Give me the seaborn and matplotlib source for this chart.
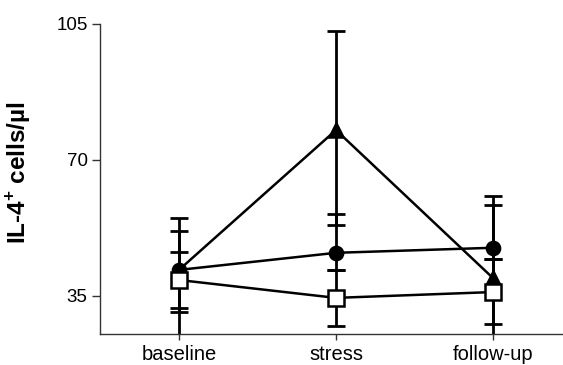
import matplotlib
matplotlib.use("Agg")
import matplotlib.pyplot as plt
import numpy as np
import seaborn as sns

# ---- data ----
timepoints = ["baseline", "stress", "follow-up"]

tri_mean = [41.7, 77.7, 39.6]
tri_low = [24.0, 53.3, 18.6]
tri_high = [55.1, 103.2, 60.7]

circ_mean = [41.7, 46.1, 47.4]
circ_low = [30.9, 41.7, 44.5]
circ_high = [51.7, 56.1, 58.4]

sq_mean = [39.1, 34.5, 36.0]
sq_low = [31.9, 27.3, 27.8]
sq_high = [46.3, 41.7, 44.5]

yticks = [35, 70, 105]
ylabel = "IL-4$^{\\mathbf{+}}$ cells/µl"

# ---- style ----
sns.set_style("white")
plt.rcParams["font.family"] = ["Liberation Sans", "DejaVu Sans"]
plt.rcParams["mathtext.fontset"] = "custom"
plt.rcParams["mathtext.rm"] = "Liberation Sans"
plt.rcParams["mathtext.bf"] = "Liberation Sans:bold"
plt.rcParams["text.color"] = "black"
plt.rcParams["xtick.color"] = "black"
plt.rcParams["ytick.color"] = "black"
plt.rcParams["axes.labelcolor"] = "black"

fig = plt.figure(figsize=(5.63, 3.65), dpi=100)
ax = fig.add_axes([100 / 563, 1 - 334 / 365, 1 - 100 / 563, (334 - 24) / 365])

series = [
    (tri_mean, tri_low, tri_high, "^", "black", 10),
    (circ_mean, circ_low, circ_high, "o", "black", 9.5),
    (sq_mean, sq_low, sq_high, "s", "white", 11.5),
]

# error bars first (behind markers)
for mean, low, high, mk, fc, ms in series:
    m = np.array(mean)
    err = [m - np.array(low), np.array(high) - m]
    ax.errorbar(timepoints, m, yerr=err, fmt="none", ecolor="black",
                elinewidth=2.0, capsize=6.5, capthick=2.0, zorder=1)

for i, (mean, low, high, mk, fc, ms) in enumerate(series):
    sns.lineplot(x=timepoints, y=mean, ax=ax, color="black", lw=1.8,
                 marker=mk, markersize=ms, markerfacecolor=fc,
                 markeredgecolor="black", markeredgewidth=1.8,
                 sort=False, zorder=3 + i)

ax.set_ylim(25.2, 105)
ax.set_xlim(-0.503, 2.446)
ax.set_yticks(yticks)
ax.set_yticklabels([str(t) for t in yticks], fontsize=13.5)
ax.tick_params(axis="y", length=6, width=1, pad=3, direction="out", left=True, color="#333333")
ax.tick_params(axis="x", length=4, width=1, pad=4, direction="out", bottom=True, labelsize=14.5, color="#333333")

for side in ["top", "right"]:
    ax.spines[side].set_visible(False)
for side in ["left", "bottom"]:
    ax.spines[side].set_color("#333333")
    ax.spines[side].set_linewidth(1.0)

ax.set_xlabel("")
ax.set_ylabel(ylabel, fontsize=17.5, fontweight="bold")
ax.yaxis.set_label_coords(-0.145, 0.52)

fig.savefig("out.png", dpi=100)
